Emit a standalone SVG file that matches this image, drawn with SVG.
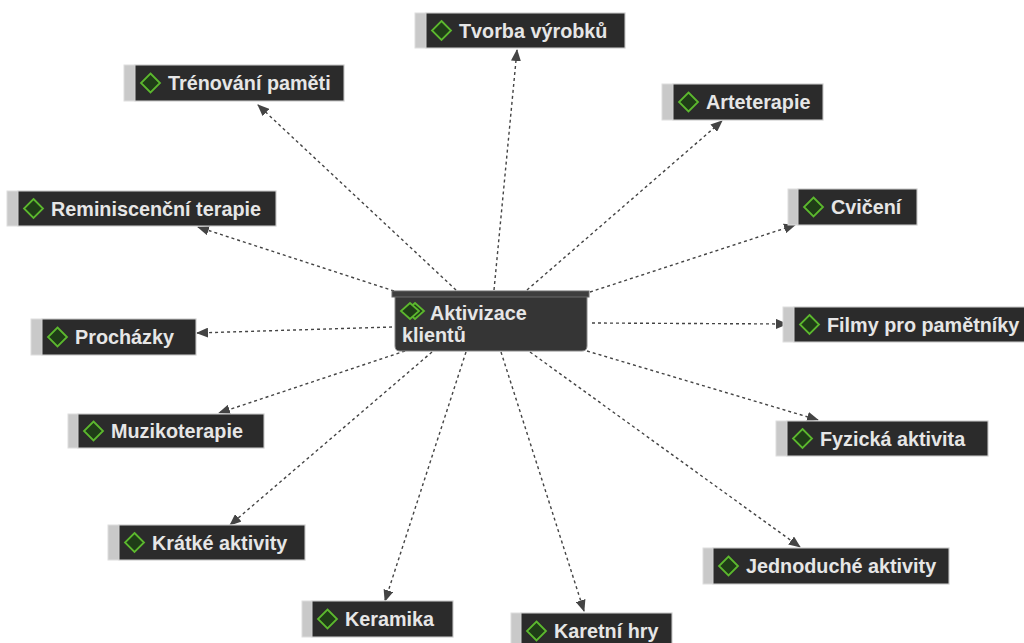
<svg xmlns="http://www.w3.org/2000/svg" width="1024" height="643" viewBox="0 0 1024 643">
<style>
.strip{fill:#c9c9c9;stroke:#dedede;stroke-width:1}
.box{fill:#2b2b2b;stroke:#d4d4d4;stroke-width:1}
.lbl{font-family:"Liberation Sans",Arial,sans-serif;font-weight:bold;font-size:19.8px;fill:#e6e6e6}
.dia{fill:#1f3d17;stroke:#5cb82e;stroke-width:1.8}
.edge{fill:none;stroke:#444;stroke-width:1.4;stroke-dasharray:3 3;marker-end:url(#arr)}
</style>
<defs>
<marker id="arr" viewBox="0 0 12 10" refX="11" refY="5" markerWidth="12" markerHeight="10" markerUnits="userSpaceOnUse" orient="auto">
<path d="M0,0 L12,5 L0,10 Z" fill="#444"/>
</marker>
</defs>
<rect width="1024" height="643" fill="#ffffff"/>
<g id="connectors">
<line class="edge" x1="456" y1="290" x2="258" y2="105"/>
<line class="edge" x1="494" y1="290" x2="517" y2="50"/>
<line class="edge" x1="527" y1="290" x2="722" y2="121"/>
<line class="edge" x1="590" y1="292" x2="795" y2="225"/>
<line class="edge" x1="592" y1="323" x2="787" y2="324"/>
<line class="edge" x1="587" y1="351" x2="818" y2="420"/>
<line class="edge" x1="530" y1="352" x2="800" y2="547"/>
<line class="edge" x1="501" y1="352" x2="584" y2="611"/>
<line class="edge" x1="466" y1="352" x2="385" y2="601"/>
<line class="edge" x1="432" y1="352" x2="230" y2="525"/>
<line class="edge" x1="405" y1="351" x2="219" y2="413"/>
<line class="edge" x1="392" y1="327" x2="197" y2="333"/>
<line class="edge" x1="394" y1="291" x2="198" y2="227"/>
</g>
<g id="center">
<path d="M395,296 H587 V346 Q587,351 582,351 H400 Q395,351 395,346 Z" fill="#353535" stroke="#8a8a8a" stroke-width="1"/>
<rect x="392" y="291" width="197" height="6" fill="#3e3e3e" stroke="#6a6a6a" stroke-width="1"/>
<polygon class="dia" points="415,303 424,311 415,319 406,311"/>
<polygon class="dia" points="410,303 419,311 410,319 401,311"/>
<text class="lbl" x="430" y="320">Aktivizace</text>
<text class="lbl" x="402" y="342">klientů</text>
</g>
<g id="n1"><rect class="strip" x="415" y="13" width="210" height="35"/><rect class="box" x="426" y="13" width="199" height="35"/><polygon class="dia" points="441.5,21 451,30.5 441.5,40 432,30.5"/><text class="lbl" x="459" y="37.5">Tvorba výrobků</text></g>
<g id="n2"><rect class="strip" x="124" y="65" width="220" height="36"/><rect class="box" x="135" y="65" width="209" height="36"/><polygon class="dia" points="150.5,73.5 160,83 150.5,92.5 141,83"/><text class="lbl" x="168" y="90">Trénování paměti</text></g>
<g id="n3"><rect class="strip" x="662" y="84" width="161" height="36"/><rect class="box" x="673" y="84" width="150" height="36"/><polygon class="dia" points="688.5,92.5 698,102 688.5,111.5 679,102"/><text class="lbl" x="706" y="109">Arteterapie</text></g>
<g id="n4"><rect class="strip" x="7" y="191" width="269" height="35"/><rect class="box" x="18" y="191" width="258" height="35"/><polygon class="dia" points="33.5,199 43,208.5 33.5,218 24,208.5"/><text class="lbl" x="51" y="215.5">Reminiscenční terapie</text></g>
<g id="n5"><rect class="strip" x="788" y="189" width="129" height="36"/><rect class="box" x="798" y="189" width="119" height="36"/><polygon class="dia" points="813.5,197.5 823,207 813.5,216.5 804,207"/><text class="lbl" x="831" y="214">Cvičení</text></g>
<g id="n6"><rect class="strip" x="31" y="319" width="165" height="36"/><rect class="box" x="42" y="319" width="154" height="36"/><polygon class="dia" points="57.5,327.5 67,337 57.5,346.5 48,337"/><text class="lbl" x="75" y="344">Procházky</text></g>
<g id="n7"><rect class="strip" x="783" y="307" width="245" height="35"/><rect class="box" x="794" y="307" width="234" height="35"/><polygon class="dia" points="809.5,315 819,324.5 809.5,334 800,324.5"/><text class="lbl" x="827" y="331.5">Filmy pro pamětníky</text></g>
<g id="n8"><rect class="strip" x="68" y="414" width="196" height="34"/><rect class="box" x="78" y="414" width="186" height="34"/><polygon class="dia" points="93.5,421.5 103,431 93.5,440.5 84,431"/><text class="lbl" x="111" y="438">Muzikoterapie</text></g>
<g id="n9"><rect class="strip" x="776" y="421" width="212" height="35"/><rect class="box" x="787" y="421" width="201" height="35"/><polygon class="dia" points="802.5,429 812,438.5 802.5,448 793,438.5"/><text class="lbl" x="820" y="445.5">Fyzická aktivita</text></g>
<g id="n10"><rect class="strip" x="108" y="525" width="197" height="35"/><rect class="box" x="119" y="525" width="186" height="35"/><polygon class="dia" points="134.5,533 144,542.5 134.5,552 125,542.5"/><text class="lbl" x="152" y="549.5">Krátké aktivity</text></g>
<g id="n11"><rect class="strip" x="703" y="548" width="246" height="36"/><rect class="box" x="713" y="548" width="236" height="36"/><polygon class="dia" points="728.5,556.5 738,566 728.5,575.5 719,566"/><text class="lbl" x="746" y="573">Jednoduché aktivity</text></g>
<g id="n12"><rect class="strip" x="302" y="601" width="151" height="36"/><rect class="box" x="312" y="601" width="141" height="36"/><polygon class="dia" points="327.5,609.5 337,619 327.5,628.5 318,619"/><text class="lbl" x="345" y="626">Keramika</text></g>
<g id="n13"><rect class="strip" x="511" y="613" width="161" height="36"/><rect class="box" x="521" y="613" width="151" height="36"/><polygon class="dia" points="536.5,621.5 546,631 536.5,640.5 527,631"/><text class="lbl" x="554" y="638">Karetní hry</text></g>
</svg>
